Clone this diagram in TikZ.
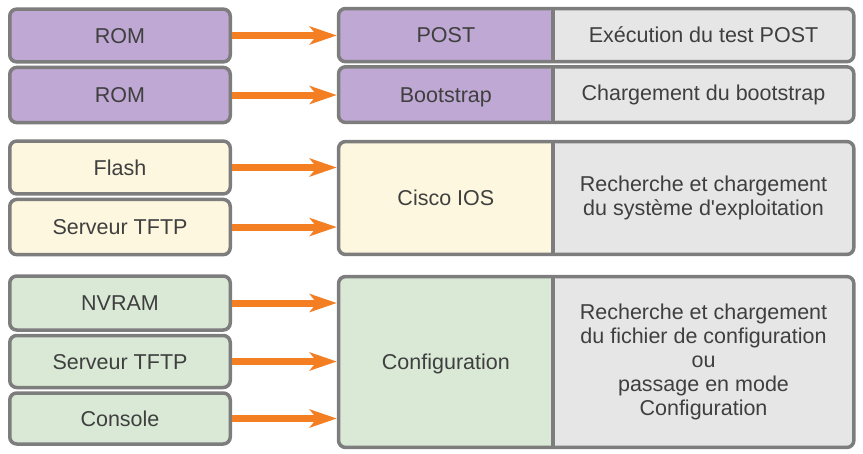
\documentclass[tikz,border=0pt]{standalone}
\usepackage{fontspec}
\setsansfont{Liberation Sans}
\usepackage{tikz}
\usetikzlibrary{arrows.meta}
\usetikzlibrary{positioning}
\definecolor{romfill}{HTML}{BFA8D3}
\definecolor{iosfill}{HTML}{FEF7DF}
\definecolor{cfgfill}{HTML}{D9E9D6}
\definecolor{descfill}{HTML}{E6E6E6}
\definecolor{framegray}{HTML}{7D7D7D}
\definecolor{txtgray}{HTML}{3F3F3F}
\definecolor{floworange}{HTML}{F47E22}
\tikzset{
    every node/.style={font=\sffamily\fontsize{21.5}{24}\selectfont, text=txtgray},
    src node/.style={draw=framegray, line width=3.5pt, rounded corners=7pt, minimum width=220.5pt,
        inner sep=0pt, text height=15.4pt, text depth=0pt},
    stage node/.style={rounded corners=7pt, minimum width=214.25pt, inner sep=0pt,
        text height=15.4pt, text depth=0pt},
    desc node/.style={fill=descfill, rounded corners=7pt, minimum width=300.25pt, inner sep=0pt, align=center},
    frame/.style={draw=framegray, line width=3.5pt, rounded corners=7pt}
}

\begin{document}
\begin{tikzpicture}[
            x = 1pt, y = -1pt, % pixel grid of the reference
            > = {Stealth[length=27pt, width=18pt, inset=7pt]}, % arrow head style
            flow/.style = {->, draw=floworange, line width=7pt,
                shorten > = 1.75pt} % stop at the frame line
        ]
        \useasboundingbox (0,0) rectangle (863,453);

        % POST and bootstrap
        \node[src node, fill=romfill, minimum height=52.8pt] (rom1) at (120,35.5) {ROM};
        \node[src node, fill=romfill, minimum height=55.2pt] (rom2) [below=2pt of rom1] {ROM};
        \node[stage node, fill=romfill, minimum height=52.8pt] (post) at (445.875,35.1) {POST};
        \node[desc node, minimum height=52.8pt] (d-post) [right=0pt of post] {Exécution du test POST};
        \node[stage node, fill=romfill, minimum height=55.2pt] (boot) at (445.875,94.6) {Bootstrap};
        \node[desc node, minimum height=55.2pt] (d-boot) [right=0pt of boot] {Chargement du bootstrap};

        % Cisco IOS
        \node[src node, fill=iosfill, minimum height=52.9pt] (flash) at (120,167.5) {Flash};
        \node[src node, fill=iosfill, minimum height=55.2pt] (tftp1) [below=2pt of flash] {Serveur TFTP};
        \node[stage node, fill=iosfill, minimum height=112.5pt] (ios) at (445.875,198) {Cisco IOS};
        \node[desc node, minimum height=112.5pt] (d-ios) [right=0pt of ios]
            {Recherche et chargement\\du système d\textquotesingle exploitation};

        % configuration
        \node[src node, fill=cfgfill, minimum height=54pt] (nvram) at (120,303) {NVRAM};
        \node[src node, fill=cfgfill, minimum height=52pt] (tftp2) [below=2pt of nvram] {Serveur TFTP};
        \node[src node, fill=cfgfill, minimum height=51pt] (console) [below=2pt of tftp2] {Console};
        \node[stage node, fill=cfgfill, minimum height=170.5pt] (config) at (445.875,362) {Configuration};
        \node[desc node, minimum height=170.5pt] (d-config) [right=0pt of config]
            {Recherche et chargement\\du fichier de configuration\\ou\\passage en mode\\Configuration};

        \foreach \s in {post,boot,ios,config}{
            \draw[frame] (\s.north west) rectangle (d-\s.south east);
            \draw[frame] (\s.north east) -- (\s.south east);
        }

        \foreach \a/\b in {rom1/post, rom2/boot, flash/ios, tftp1/ios,
                nvram/config, tftp2/config, console/config}
            \draw[flow] (\a.east) -- (\a.east -| \b.west);

\end{tikzpicture}
\end{document}
